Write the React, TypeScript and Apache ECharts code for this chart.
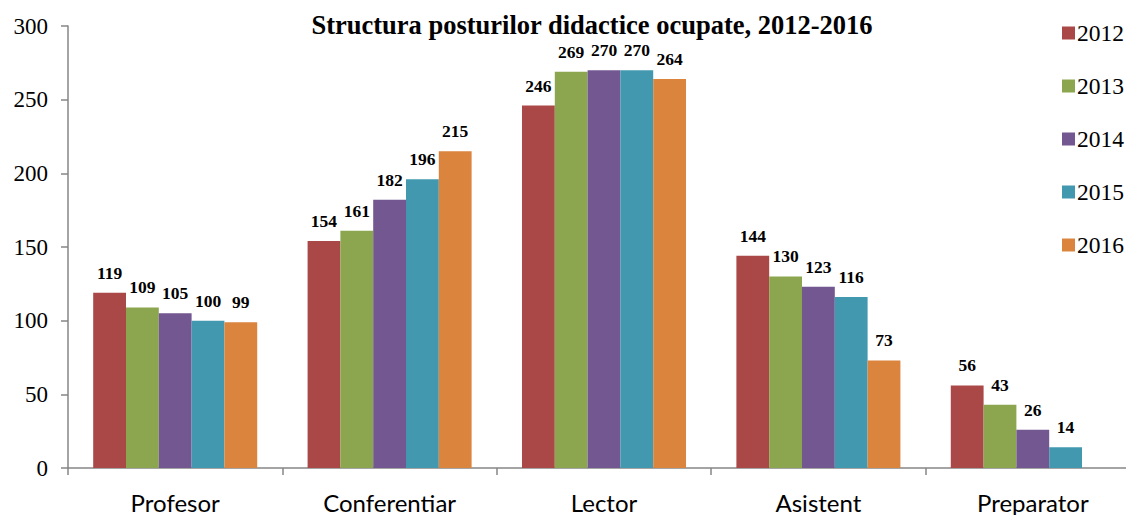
import React, { useEffect, useRef } from "react";
import * as echarts from "echarts";

const categories = ["Profesor", "Conferentiar", "Lector", "Asistent", "Preparator"];
const years = ["2012", "2013", "2014", "2015", "2016"];
const v2012 = [119, 154, 246, 144, 56];
const v2013 = [109, 161, 269, 130, 43];
const v2014 = [105, 182, 270, 123, 26];
const v2015 = [100, 196, 270, 116, 14];
const v2016 = [99, 215, 264, 73, null];
const colors = ["#A94846", "#8BA64F", "#725791", "#4298AF", "#DB843E"];
const yTicks = [0, 50, 100, 150, 200, 250, 300];

export default function App() {
  const ref = useRef<HTMLDivElement>(null);
  useEffect(() => {
    if (!ref.current) return;
    const chart = echarts.init(ref.current, null, { renderer: "svg" });
    const all = [v2012, v2013, v2014, v2015, v2016];
    chart.setOption({
      animation: false,
      backgroundColor: "#ffffff",
      title: {
        text: "Structura posturilor didactice ocupate, 2012-2016",
        left: 592,
        top: 12,
        padding: 0,
        textAlign: "center",
        textStyle: {
          fontFamily: "Liberation Serif",
          fontWeight: "bold",
          fontSize: 26.5,
          lineHeight: 26,
          color: "#000",
        },
      },
      legend: {
        orient: "vertical",
        left: 1057,
        top: 16,
        itemWidth: 13,
        itemHeight: 13,
        itemGap: 29,
        icon: "rect",
        data: years,
        textStyle: { fontFamily: "Liberation Serif", fontSize: 23.5, color: "#000", padding: [0, 0, 0, -3] },
      },
      grid: { left: 68, top: 26, bottom: 47, right: 2, containLabel: false },
      xAxis: {
        type: "category",
        data: categories,
        axisLine: { lineStyle: { color: "#868686", width: 1.5 } },
        axisTick: { show: true, length: 7, lineStyle: { color: "#868686", width: 1.5 } },
        axisLabel: { fontFamily: "Lato", fontSize: 24, color: "#000", margin: 22 },
      },
      yAxis: {
        type: "value",
        min: yTicks[0],
        max: yTicks[yTicks.length - 1],
        interval: 50,
        splitLine: { show: false },
        axisLine: { show: true, lineStyle: { color: "#868686", width: 1.5 } },
        axisTick: { show: true, length: 7, lineStyle: { color: "#868686", width: 1.5 } },
        axisLabel: { fontFamily: "Liberation Serif", fontSize: 23, color: "#000", margin: 20 },
      },
      series: all.map((d, i) => ({
        name: years[i],
        type: "bar",
        data: d,
        barGap: "0%",
        barCategoryGap: "23.5%",
        itemStyle: { color: colors[i] },
        label: {
          show: true,
          position: "top",
          distance: 11,
          fontFamily: "Liberation Serif",
          fontWeight: "bold",
          fontSize: 17.5,
          color: "#000",
        },
      })),
    });
    return () => chart.dispose();
  }, []);
  return (
    <div style={{ width: 1126, height: 515, position: "absolute", left: 0, top: 0, overflow: "hidden" }}>
      <div ref={ref} style={{ width: 1142, height: 515 }} />
    </div>
  );
}
